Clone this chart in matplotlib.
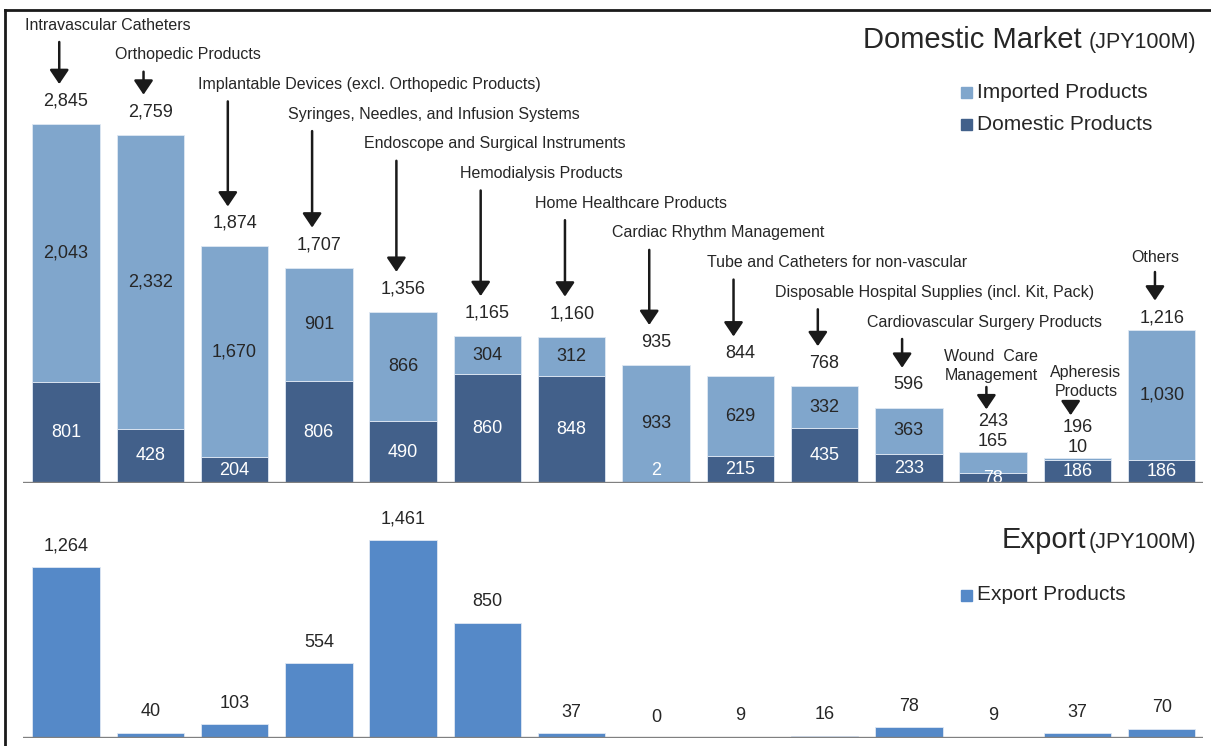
import numpy as np
import matplotlib.pyplot as plt
from matplotlib.lines import Line2D
from matplotlib.patches import Rectangle

plt.rcParams['font.family'] = ['Liberation Sans', 'DejaVu Sans']

# Data (JPY100M)
categories = ["Intravascular Catheters", "Orthopedic Products",
              "Implantable Devices (excl. Orthopedic Products)",
              "Syringes, Needles, and Infusion Systems",
              "Endoscope and Surgical Instruments", "Hemodialysis Products",
              "Home Healthcare Products", "Cardiac Rhythm Management",
              "Tube and Catheters for non-vascular",
              "Disposable Hospital Supplies (incl. Kit, Pack)",
              "Cardiovascular Surgery Products", "Wound  Care\nManagement",
              "Apheresis\nProducts", "Others"]
domestic = [801, 428, 204, 806, 490, 860, 848, 2, 215, 435, 233, 78, 186, 186]
imported = [2043, 2332, 1670, 901, 866, 304, 312, 933, 629, 332, 363, 165, 10, 1030]
totals = [2845, 2759, 1874, 1707, 1356, 1165, 1160, 935, 844, 768, 596, 243, 196, 1216]
export = [1264, 40, 103, 554, 1461, 850, 37, 0, 9, 16, 78, 9, 37, 70]

c_imp = '#80a6cc'
c_dom = '#42608a'
c_exp = '#5589c8'
c_txt = '#262626'

W, H = 1211, 746
fig = plt.figure(figsize=(W / 100, H / 100), dpi=100)
ax1 = fig.add_axes([23 / W, 1 - 483 / H, 1180 / W, 473 / H])
ax2 = fig.add_axes([23 / W, 1 - 738 / H, 1180 / W, 248 / H])
x = np.arange(len(categories))
for ax in (ax1, ax2):
    ax.set_xlim(-0.51, 13.49)
    ax.axis('off')
    ax.axhline(0, color='#808080', lw=2.4, zorder=5)
ax1.set_ylim(0, 3748)
ax2.set_ylim(0, 1830)

px_per_unit = 473 / 3748


def py(ypx):
    # figure pixel row -> top axis value
    return (483 - ypx) / px_per_unit


# Domestic market stacked bars
ax1.bar(x, domestic, 0.8, color=c_dom, edgecolor='#dfe8f3', lw=0.6)
ax1.bar(x, imported, 0.8, bottom=domestic, color=c_imp, edgecolor='#dfe8f3', lw=0.6)

tot_gap = []  # pixel gap between bar top and total label
for i in range(len(categories)):
    d, m, t = domestic[i], imported[i], totals[i]
    yd = d / 2 if d > 20 else 100
    ax1.text(i, yd, f"{d:,}", ha='center', va='center', fontsize=13,
             color='white', clip_on=True)
    if m >= 200:
        ax1.text(i, d + m / 2, f"{m:,}", ha='center', va='center',
                 fontsize=13, color=c_txt)
        gap = 12 if i == len(categories) - 1 else 23
    else:
        ax1.annotate(f"{m:,}", (i, d + m), xytext=(0, 7.5),
                     textcoords='offset points', ha='center', va='center',
                     fontsize=13, color=c_txt)
        gap = 31
    tot_gap.append(gap)
    ax1.annotate(f"{t:,}", (i, d + m), xytext=(0, gap * 0.72),
                 textcoords='offset points', ha='center', va='center',
                 fontsize=13, color=c_txt)

# Category labels with arrows
lab_dx = [-0.49, -0.42, -0.43, -0.37, -0.47, -0.33, -0.44, -0.52, -0.40, -0.59, -0.50]
for i in range(11):
    ly = 25 + 29.7 * i
    ax1.text(i + lab_dx[i], py(ly), categories[i], ha='left', va='center',
             fontsize=11.5, color=c_txt)
extra = {11: (-0.02, 366, 387), 12: (0.10, 382, 403), 13: (-0.08, 258, 272)}
for i, (dx, ly, y0) in extra.items():
    ax1.text(i + dx, py(ly), categories[i], ha='center', va='center',
             fontsize=11.5, color=c_txt, linespacing=1.3)

for i in range(len(categories)):
    top_px = 483 - (domestic[i] + imported[i]) * px_per_unit
    lab_px = top_px - tot_gap[i]
    tip = lab_px - (17 if imported[i] >= 200 else 12)
    start = extra[i][2] if i in extra else 25 + 29.7 * i + 17
    ax1.annotate('', xy=(i - 0.08, py(tip)), xytext=(i - 0.08, py(start)),
                 arrowprops=dict(arrowstyle='-|>,head_width=0.58,head_length=0.86',
                                 mutation_scale=10, lw=1.8, color='#1a1a1a',
                                 shrinkA=0, shrinkB=0),
                 annotation_clip=False)

# Export bars
ax2.bar(x, export, 0.8, color=c_exp, edgecolor='#dfe8f3', lw=0.6)
for i, v in enumerate(export):
    ax2.annotate(f"{v:,}", (i, v), xytext=(0, 15), textcoords='offset points',
                 ha='center', va='center', fontsize=13, color=c_txt)

# Titles
fig.text(1196 / W, 1 - 48 / H, "(JPY100M)", ha='right', va='baseline',
         fontsize=15.5, color=c_txt)
fig.text(1082 / W, 1 - 48 / H, "Domestic Market", ha='right', va='baseline',
         fontsize=21, color=c_txt)
fig.text(1196 / W, 1 - 548 / H, "(JPY100M)", ha='right', va='baseline',
         fontsize=15.5, color=c_txt)
fig.text(1086 / W, 1 - 548 / H, "Export", ha='right', va='baseline',
         fontsize=21, color=c_txt)

# Legends
for y, lab, col in [(92, "Imported Products", c_imp),
                    (124, "Domestic Products", c_dom),
                    (595, "Export Products", c_exp)]:
    fig.patches.append(Rectangle((961 / W, 1 - (y + 5.5) / H), 11 / W, 11 / H,
                                 transform=fig.transFigure, color=col))
    fig.text(977 / W, 1 - y / H, lab, ha='left', va='center',
             fontsize=15, color=c_txt)

# Frame
fig.add_artist(Line2D([5 / W, 1], [1 - 10 / H, 1 - 10 / H], color='#1a1a1a',
                      lw=2, transform=fig.transFigure))
fig.add_artist(Line2D([5 / W, 5 / W], [1 - 10 / H, 0], color='#1a1a1a',
                      lw=2, transform=fig.transFigure))

fig.savefig('out.png', dpi=100)
